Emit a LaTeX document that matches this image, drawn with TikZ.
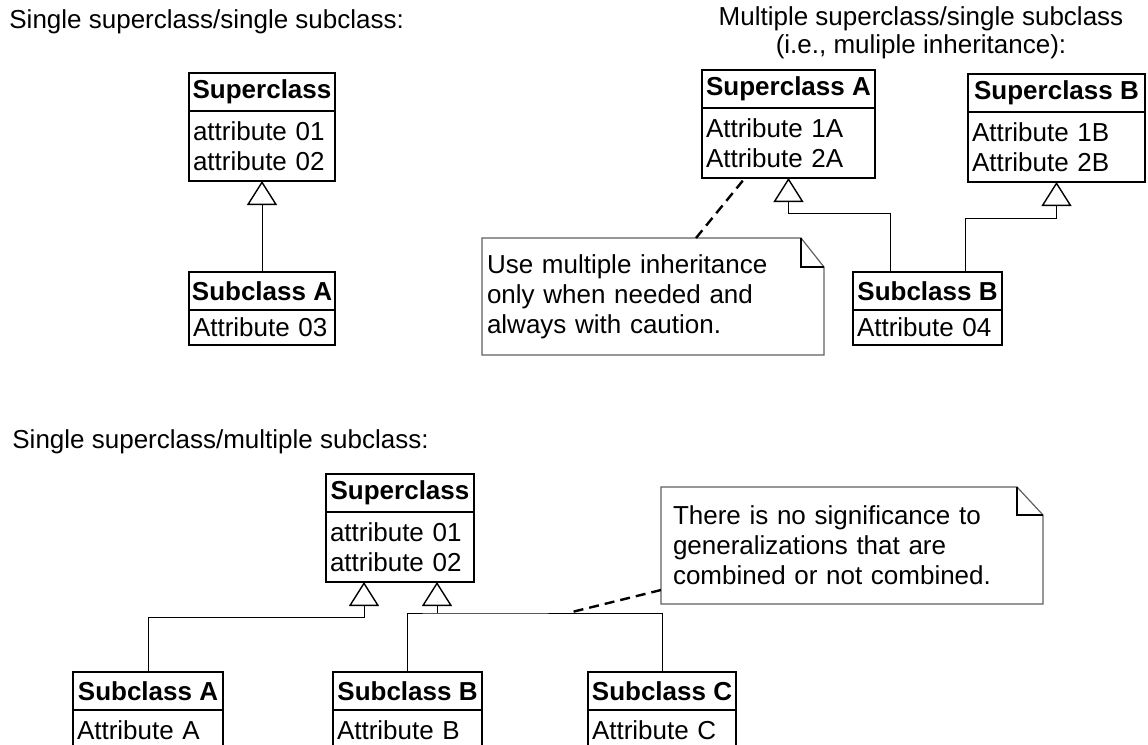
\documentclass[tikz,border=0pt]{standalone}
\usepackage{fontspec}
\setmainfont{Liberation Sans}
\usetikzlibrary{positioning,arrows.meta}
\definecolor{noteedge}{RGB}{96,96,96}

\tikzset{
  classhd/.style={draw, line width=0.8pt, outer sep=0pt, font=\fontsize{13pt}{15pt}\selectfont\bfseries, minimum width=#1, minimum height=19pt, inner xsep=1pt, anchor=north west},
  classat/.style={draw, line width=0.8pt, outer sep=0pt, align=left, text width=#1, inner xsep=2pt, minimum height=35pt},
  gen/.style={line width=0.5pt, -{Triangle[open, width=15pt, length=12pt, line width=0.7pt]}},
  notebox/.style={outer sep=0pt, align=left, anchor=north west, minimum height=58.5pt},
  noteline/.style={draw=noteedge, line width=0.6pt},
  anchorline/.style={line width=1.2pt, dash pattern=on 5pt off 3pt},
  title/.style={anchor=base west, inner sep=0pt}
}

\begin{document}
\begin{tikzpicture}[x=0.5pt,y=0.5pt,yscale=-1,font=\fontsize{13pt}{15pt}\selectfont]
\useasboundingbox (0,0) rectangle (1148,745);
\clip (0,0) rectangle (1148,745);

% titles
\node[title] (ttl1) at (9,28) {Single superclass/single subclass:};
\node[title, anchor=base] (ttl2) at (921,25) {Multiple superclass/single subclass};
\node[title, anchor=base] (ttl2b) at (921,53) {(i.e., muliple inheritance):};
\node[title] (ttl3) at (12,448) {Single superclass/multiple subclass:};

% single superclass / single subclass
\node[classhd=73pt] (supS) at (189,73) {Superclass};
\node[classat=69pt, below=0pt of supS] (supSat) {attribute 01\\attribute 02};
\node[classhd=73pt] (subA1) at (189,272) {Subclass A};
\node[classat=69pt, minimum height=17.5pt, below=0pt of subA1] (subA1at) {Attribute 03};
\draw[gen] (subA1.north) -- (supSat.south);

% multiple superclass / single subclass
\node[classhd=86.5pt] (supA) at (702,70) {Superclass A};
\node[classat=82.5pt, below=0pt of supA] (supAat) {Attribute 1A\\Attribute 2A};
\node[classhd=88.5pt] (supB) at (968,74) {Superclass B};
\node[classat=84.5pt, below=0pt of supB] (supBat) {Attribute 1B\\Attribute 2B};
\node[classhd=74.5pt] (subB1) at (853,272) {Subclass B};
\node[classat=70.5pt, minimum height=17.5pt, below=0pt of subB1] (subB1at) {Attribute 04};

\coordinate (bendA) at (890,213);
\coordinate (bendB) at (965,218);
\draw[gen] (subB1.north -| bendA) -- (bendA) -| (supAat.south);
\draw[gen] (subB1.north -| bendB) -- (bendB) -| (supBat.south);

\node[notebox, text width=166pt, inner xsep=2.5pt] (note1) at (482,238) {Use multiple inheritance\\only when needed and\\always with caution.};
\draw[noteline] (note1.north west) -- ([xshift=-11.5pt]note1.north east) -- ([yshift=14.5pt]note1.north east) -- (note1.south east) -- (note1.south west) -- cycle;
\draw[line width=0.6pt] ([xshift=-11.5pt]note1.north east) |- ([yshift=14.5pt]note1.north east);
\draw[anchorline] ([xshift=107pt]note1.north west) -- ([xshift=21.5pt]supAat.south west);

% single superclass / multiple subclass
\node[classhd=74pt] (supM) at (326,474) {Superclass};
\node[classat=70pt, below=0pt of supM] (supMat) {attribute 01\\attribute 02};
\node[classhd=75pt] (subAm) at (73,672) {Subclass A};
\node[classat=71pt, minimum height=20pt, below=0pt of subAm] (subAmat) {Attribute A};
\node[classhd=74.5pt] (subBm) at (333,672) {Subclass B};
\node[classat=70.5pt, minimum height=20pt, below=0pt of subBm] (subBmat) {Attribute B};
\node[classhd=74pt] (subCm) at (588,672) {Subclass C};
\node[classat=70pt, minimum height=20pt, below=0pt of subCm] (subCmat) {Attribute C};

\coordinate (bendL) at (364,617);
\coordinate (bendR) at (437,613);
\draw[gen] (subAm.north) |- (bendL) -- (bendL |- supMat.south);
\draw[line width=0.5pt] (subBm.north) |- (bendR) -| (subCm.north);
\draw[gen] (bendR) -- (bendR |- supMat.south);

\node[notebox, text width=179pt, inner xsep=6pt] (note2) at (661,487) {There is no significance to\\generalizations that are\\combined or not combined.};
\draw[noteline] (note2.north west) -- ([xshift=-13pt]note2.north east) -- ([yshift=14pt]note2.north east) -- (note2.south east) -- (note2.south west) -- cycle;
\draw[line width=0.6pt] ([xshift=-13pt]note2.north east) |- ([yshift=14pt]note2.north east);
\draw[anchorline] ([yshift=-7pt]note2.south west) -- ([xshift=65.5pt]bendR);

\end{tikzpicture}
\end{document}
